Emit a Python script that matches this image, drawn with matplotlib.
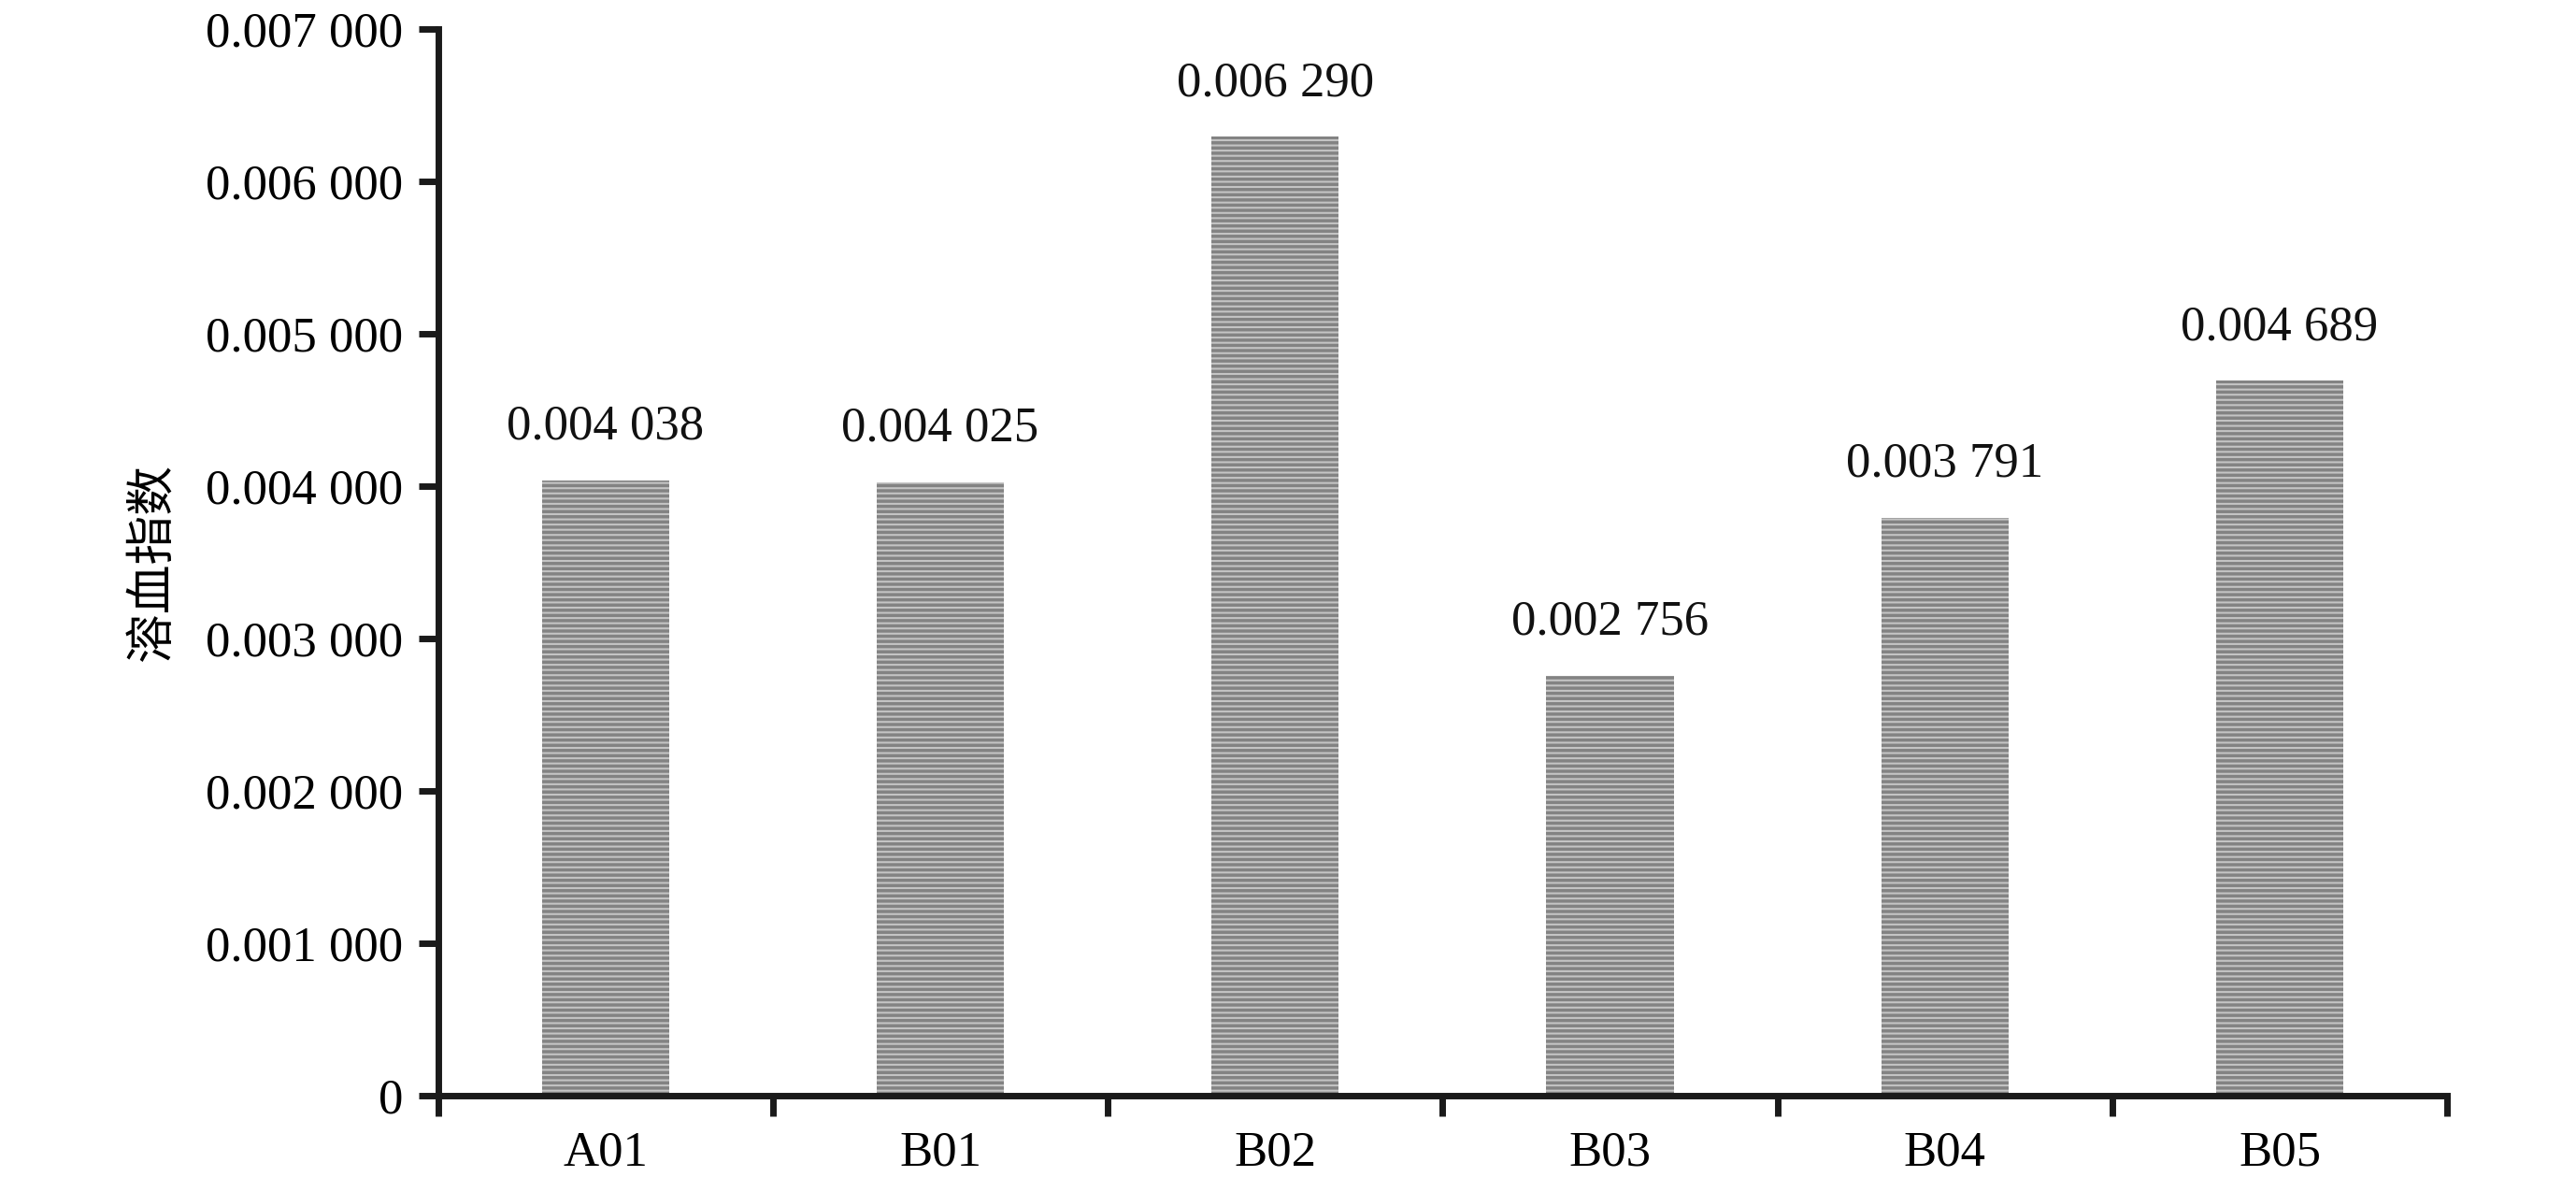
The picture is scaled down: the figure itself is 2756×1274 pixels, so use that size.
import numpy as np
import matplotlib
matplotlib.use("Agg")
from matplotlib import pyplot as plt
from matplotlib.ticker import FixedLocator, FuncFormatter

plt.rcParams['font.family'] = ['Liberation Serif', 'DejaVu Serif']
plt.rcParams['hatch.linewidth'] = 2.5

groups = ["A01", "B01", "B02", "B03", "B04", "B05"]
hemolysis = [0.004038, 0.004025, 0.006290, 0.002756, 0.003791, 0.004689]
y_ticks = [0, 0.001, 0.002, 0.003, 0.004, 0.005, 0.006, 0.007]


def spaced(v, pos=None):
    # 0.004038 -> "0.004 038"
    if v == 0:
        return "0"
    s = f"{v:.6f}"
    return s[:5] + " " + s[5:]


fig = plt.figure(figsize=(27.56, 12.74), dpi=100)
ax = fig.add_axes([0.170, 0.080, 0.780, 0.896])

x = np.arange(len(groups))
bars = ax.bar(x, hemolysis, width=0.38, color='#c4c4c4', edgecolor='#838383',
              linewidth=0, hatch='---', zorder=2)

for xi, v in zip(x, hemolysis):
    ax.annotate(spaced(v), (xi, v), xytext=(0, 24), textcoords='offset points',
                ha='center', va='bottom', fontsize=38, color='#111111')

ax.set_xlim(-0.5, len(groups) - 0.5)
ax.set_ylim(0, 0.007)

# category boundaries carry the tick marks, centres carry the labels
ax.xaxis.set_major_locator(FixedLocator(np.arange(len(groups) + 1) - 0.5))
ax.xaxis.set_major_formatter(FuncFormatter(lambda v, p: ""))
ax.xaxis.set_minor_locator(FixedLocator(x))
ax.set_xticklabels(groups, minor=True)
ax.tick_params(axis='x', which='major', direction='out', length=16, width=5,
               color='#1a1a1a')
ax.tick_params(axis='x', which='minor', length=0, pad=27, labelsize=38)

ax.set_yticks(y_ticks)
ax.yaxis.set_major_formatter(FuncFormatter(spaced))
ax.tick_params(axis='y', direction='out', length=15, width=5, pad=12,
               labelsize=38, color='#1a1a1a')

for side in ['top', 'right']:
    ax.spines[side].set_visible(False)
for side in ['left', 'bottom']:
    ax.spines[side].set_linewidth(5)
    ax.spines[side].set_color('#1a1a1a')

ax.set_ylabel("溶血指数", family=['Noto Sans CJK SC', 'DejaVu Sans'],
              fontsize=38, labelpad=21)

fig.savefig("out.png", dpi=100)
